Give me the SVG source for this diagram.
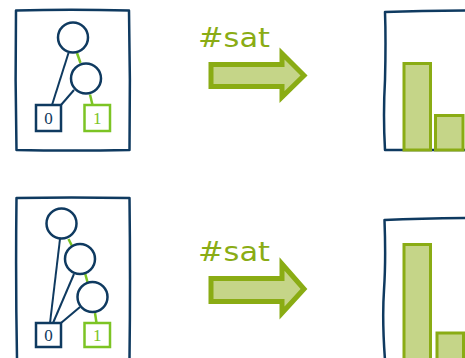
<svg xmlns="http://www.w3.org/2000/svg" width="465" height="358" viewBox="0 0 465 358">
<style>
.frame{fill:none;stroke:#0f3a60;stroke-width:2.5;stroke-linejoin:round;stroke-linecap:round}
.node{fill:#fff;stroke:#0f3a60;stroke-width:2.5}
.e0{stroke:#0f3a60;stroke-width:2;fill:none}
.e1{stroke:#7cc424;stroke-width:2.5;fill:none}
.t0{fill:#fff;stroke:#0f3a60;stroke-width:2.5}
.t1{fill:#fff;stroke:#7cc424;stroke-width:2.5}
.lbl{font-family:"Liberation Serif",serif;font-size:17px;text-anchor:middle}
.arrow{fill:#c5d588;stroke:#8aac14;stroke-width:5;stroke-linejoin:miter}
.bar{fill:#c5d588;stroke:#8aac14;stroke-width:3}
.sat{font-family:"DejaVu Sans",sans-serif;font-size:27px;fill:#8aac14}
</style>
<rect width="465" height="358" fill="#fff"/>
<g id="connectors">
<line class="e0" x1="68.5" y1="53" x2="52" y2="105"/>
<line class="e0" x1="74" y1="90" x2="61" y2="105"/>
<line class="e1" x1="77" y1="53" x2="80.5" y2="63"/>
<line class="e1" x1="90" y1="94.5" x2="92.5" y2="105"/>
<line class="e0" x1="60" y1="239" x2="50" y2="323"/>
<line class="e0" x1="74" y1="274" x2="53" y2="323"/>
<line class="e0" x1="80" y1="307" x2="61" y2="323"/>
<line class="e1" x1="68.5" y1="239" x2="72.5" y2="247"/>
<line class="e1" x1="85" y1="273" x2="88" y2="284"/>
<line class="e1" x1="95" y1="313" x2="96.5" y2="323"/>
</g>
<g id="tree1">
<path class="frame" d="M16,10.5 Q70,9 129,10.5 Q130.5,80 129.5,150 Q70,151 16.5,150 Q15,80 16,10.5 Z"/>
<circle id="n1a" class="node" cx="73" cy="37.5" r="15"/>
<circle id="n1b" class="node" cx="86" cy="78.5" r="15"/>
<g id="z1"><rect class="t0" x="36" y="105" width="25" height="26"/><text class="lbl" x="48.5" y="124" fill="#0f3a60">0</text></g>
<g id="o1"><rect class="t1" x="84.5" y="105" width="25.5" height="26"/><text class="lbl" x="97.2" y="124" fill="#7cc424">1</text></g>
</g>
<g id="tree2">
<path class="frame" d="M16.5,198 Q70,197 129.5,198 Q130.5,280 129.5,358 M16.5,198 Q15.5,280 17,358"/>
<circle id="n2a" class="node" cx="61.5" cy="223.5" r="15"/>
<circle id="n2b" class="node" cx="80" cy="259" r="15"/>
<circle id="n2c" class="node" cx="92.5" cy="297" r="15"/>
<g id="z2"><rect class="t0" x="36" y="323" width="25" height="24"/><text class="lbl" x="48.5" y="341" fill="#0f3a60">0</text></g>
<g id="o2"><rect class="t1" x="84.5" y="323" width="25.5" height="24"/><text class="lbl" x="97.2" y="341" fill="#7cc424">1</text></g>
</g>
<g id="arrow1">
<text class="sat" x="198" y="47" textLength="72" lengthAdjust="spacingAndGlyphs">#sat</text>
<path class="arrow" d="M211,64.5 L282,64.5 L282,53.5 L304,75.5 L282,97 L282,86.5 L211,86.5 Z"/>
</g>
<g id="arrow2">
<text class="sat" x="198" y="261" textLength="72" lengthAdjust="spacingAndGlyphs">#sat</text>
<path class="arrow" d="M211,278.5 L282,278.5 L282,264 L304,289 L282,313 L282,301.5 L211,301.5 Z"/>
</g>
<g id="hist1">
<path class="frame" d="M466,10.5 Q420,11 385,12 Q386,40 385,80 Q383,115 385,150 L466,150"/>
<rect class="bar" x="404" y="63.5" width="26.5" height="86.5"/>
<rect class="bar" x="435.5" y="115.5" width="27.5" height="34.5"/>
</g>
<g id="hist2">
<path class="frame" d="M466,218 Q420,218.5 384.5,220 Q386,260 384,290 Q382,320 385,360"/>
<rect class="bar" x="404" y="244.5" width="26.5" height="115"/>
<rect class="bar" x="437" y="333" width="26.5" height="27"/>
</g>
</svg>
